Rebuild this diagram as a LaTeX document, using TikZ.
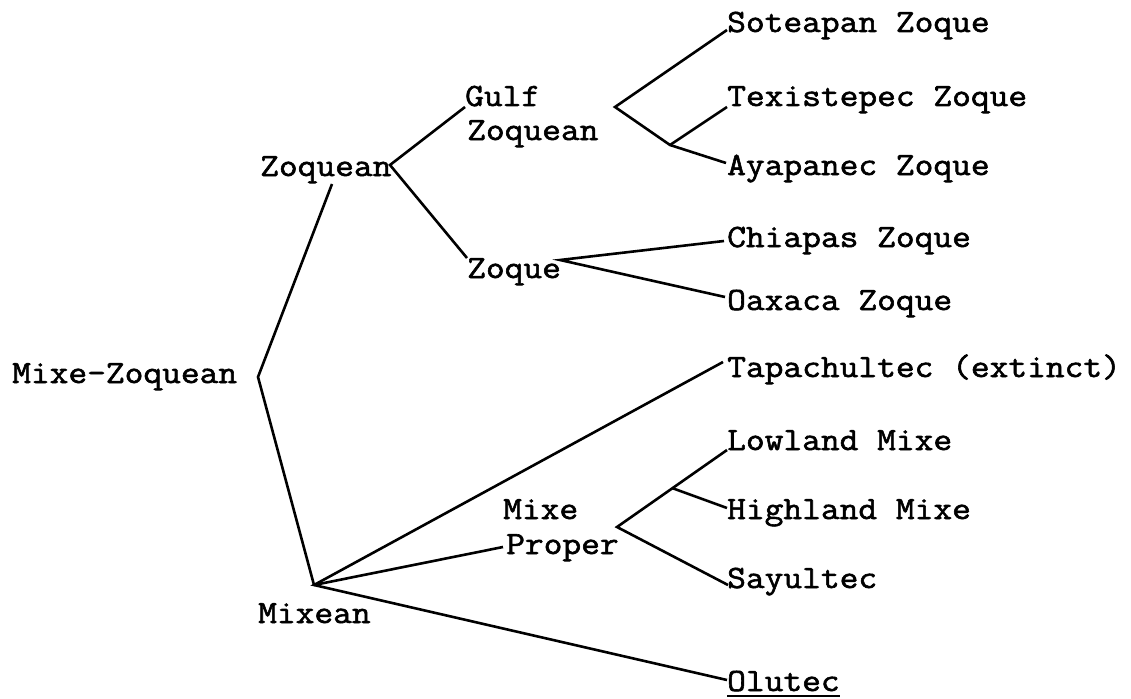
\documentclass[tikz,border=0pt]{standalone}
\usepackage{fontspec}
\newfontfamily\treefont[FakeBold=1.8,FakeStretch=1.12]{Latin Modern Mono}
\begin{document}
\begin{tikzpicture}[x=1pt,y=-1pt,
  lang/.style={inner sep=0pt,anchor=base west,font=\treefont\fontsize{32.5}{34}\selectfont},
  branch/.style={line width=2.6pt,line join=miter,line cap=butt}]
\useasboundingbox (0,0) rectangle (1131,698);

% labels
\node[lang] (mz)   at (12,383)  {Mixe-Zoquean};
\node[lang] (zq)   at (260,176) {Zoquean};
\node[lang] (gulf) at (465,106) {Gulf};
\node[lang] (gzq)  at (467,140) {Zoquean};
\node[lang] (zoq)  at (467,278) {Zoque};
\node[lang] (sotL) at (727,32)  {Soteapan Zoque};
\node[lang] (texL) at (727,106) {Texistepec Zoque};
\node[lang] (ayaL) at (727,175) {Ayapanec Zoque};
\node[lang] (chiL) at (727,247) {Chiapas Zoque};
\node[lang] (oaxL) at (727,310) {Oaxaca Zoque};
\node[lang] (tapL) at (727,377) {Tapachultec (extinct)};
\node[lang] (lowL) at (727,450) {Lowland Mixe};
\node[lang] (higL) at (727,519) {Highland Mixe};
\node[lang] (sayL) at (727,588) {Sayultec};
\node[lang] (oluL) at (727,691) {Olutec};
\node[lang] (mixe) at (503,519) {Mixe};
\node[lang] (prop) at (506,554) {Proper};
\node[lang] (mxn)  at (258,623) {Mixean};

% branch points and line ends
\coordinate (root)   at (258,377);
\coordinate (zqin)   at (332,184);
\coordinate (zqout)  at (390,165);
\coordinate (gulfin) at (465,107);
\coordinate (zoqin)  at (467,258);
\coordinate (gz)     at (615,107);
\coordinate (gz2)    at (670,145);
\coordinate (sot)    at (727,30);
\coordinate (tex)    at (727,107);
\coordinate (aya)    at (726,163);
\coordinate (zoqout) at (560,260);
\coordinate (chi)    at (724,241);
\coordinate (oax)    at (725,297);
\coordinate (mixean) at (314,585);
\coordinate (tap)    at (723,362);
\coordinate (propin) at (503,547);
\coordinate (olu)    at (727,680);
\coordinate (mp)     at (617,527);
\coordinate (mp2)    at (672,488);
\coordinate (low)    at (727,450);
\coordinate (hig)    at (727,508);
\coordinate (say)    at (728,585);

% tree
\draw[branch] (zqin) -- (root) -- (mixean);
\draw[branch] (gulfin) -- (zqout) -- (zoqin);
\draw[branch] (sot) -- (gz) -- (gz2) -- (aya);
\draw[branch] (gz2) -- (tex);
\draw[branch] (chi) -- (zoqout) -- (oax);
\draw[branch] (tap) -- (mixean) -- (olu);
\draw[branch] (mixean) -- (propin);
\draw[branch] (low) -- (mp) -- (say);
\draw[branch] (mp2) -- (hig);

% underline
\draw[line width=2.2pt] ([yshift=-5pt]oluL.base west) -- ([yshift=-5pt]oluL.base east);
\end{tikzpicture}
\end{document}
